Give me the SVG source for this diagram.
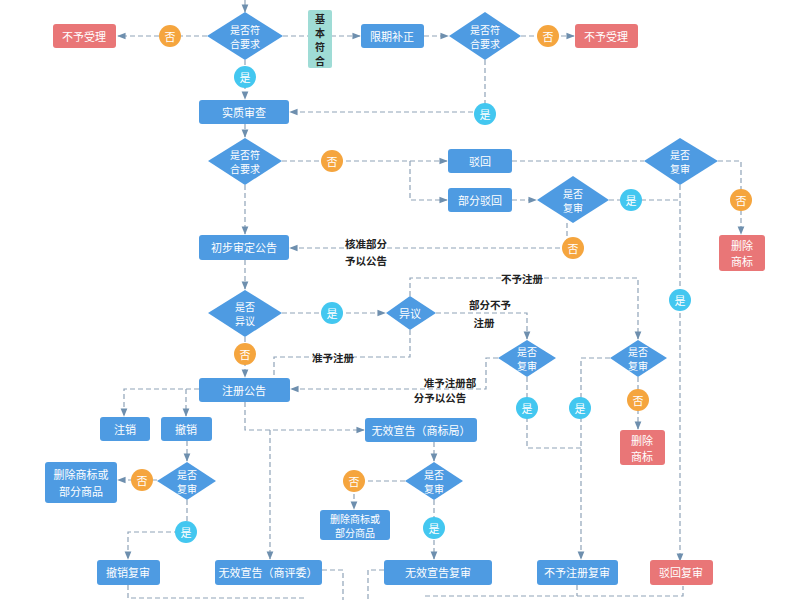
<svg xmlns="http://www.w3.org/2000/svg" width="800" height="600" viewBox="0 0 800 600">
<style>
.b{fill:#4e9be2}.r{fill:#e97677}.o{fill:#f5a53e}.c{fill:#43c7f0}
text{font-family:"Noto Sans CJK SC","Noto Sans",sans-serif;font-size:11px;fill:#fff;text-anchor:middle;dominant-baseline:central}
.s text,text.s{font-size:10px}
.k{fill:#222;font-size:10.5px;font-weight:bold}
.l{fill:none;stroke:#8fa3b8;stroke-width:1.2;stroke-dasharray:5 3}
.a{marker-end:url(#ar)}
</style>
<defs><marker id="ar" viewBox="0 0 10 10" refX="9" refY="5" markerWidth="7" markerHeight="7" orient="auto"><path d="M0,1 L10,5 L0,9 z" fill="#6e8fae"/></marker></defs>
<rect width="800" height="600" fill="#fff"/>
<g id="connectors">
<path class="l a" d="M245,0 V12"/>
<path class="l a" d="M207,36 H118"/>
<path class="l a" d="M283,36 H360"/>
<path class="l a" d="M424,36 H448"/>
<path class="l a" d="M521,36 H574"/>
<path class="l a" d="M485,60 V112 H290"/>
<path class="l a" d="M245,60 V99"/>
<path class="l a" d="M245,124 V137"/>
<path class="l a" d="M282,161 H447"/>
<path class="l a" d="M410,161 V200 H447"/>
<path class="l a" d="M512,200 H536"/>
<path class="l" d="M512,161 H644"/>
<path class="l" d="M609,200 H680"/>
<path class="l a" d="M718,161 H741 V234"/>
<path class="l a" d="M680,185 V561"/>
<path class="l a" d="M567,223 V248 H290"/>
<path class="l a" d="M245,185 V234"/>
<path class="l a" d="M245,260 V289"/>
<path class="l a" d="M282,313 H385"/>
<path class="l a" d="M245,337 V377"/>
<path class="l" d="M410,330 V357 H274 V378"/>
<path class="l a" d="M410,296 V278 H638 V339"/>
<path class="l a" d="M436,313 H527 V339"/>
<path class="l a" d="M498,358 H486 V389 H291"/>
<path class="l" d="M527,377 V448 H581"/>
<path class="l a" d="M610,358 H581 V559"/>
<path class="l a" d="M638,377 V429"/>
<path class="l a" d="M199,389 H124 V416"/>
<path class="l a" d="M186,389 V416"/>
<path class="l a" d="M245,402 V430 H364"/>
<path class="l a" d="M270,430 V559"/>
<path class="l a" d="M187,441 V461"/>
<path class="l a" d="M157,480 H118"/>
<path class="l a" d="M187,500 V532 H128 V559"/>
<path class="l a" d="M434,442 V461"/>
<path class="l a" d="M405,481 H354 V509"/>
<path class="l a" d="M434,500 V559"/>
<path class="l" d="M128,585 V598 H305"/>
<path class="l" d="M322,570 H343 V600"/>
<path class="l" d="M384,570 H368 V600"/>
<path class="l" d="M425,596 H683 V586"/>
<path class="l" d="M577,585 V596"/>
</g>
<g id="d1" class="s"><polygon class="b" points="245,12 283,36 245,60 207,36"/><text x="245" y="29">是否符</text><text x="245" y="43">合要求</text></g>
<g id="n1"><rect class="r" x="53" y="24" width="63" height="24" rx="3"/><text x="84" y="36">不予受理</text></g>
<g id="c1"><circle class="o" cx="170" cy="36" r="11"/><text x="170" y="36">否</text></g>
<g id="n2"><rect fill="#9fdcd6" x="308" y="10" width="24" height="58" rx="2"/><text class="k" x="320" y="18" style="font-size:10px">基</text><text class="k" x="320" y="32" style="font-size:10px">本</text><text class="k" x="320" y="46" style="font-size:10px">符</text><text class="k" x="320" y="60" style="font-size:10px">合</text></g>
<g id="n3"><rect class="b" x="361" y="24" width="63" height="24" rx="3"/><text x="392" y="36">限期补正</text></g>
<g id="d2" class="s"><polygon class="b" points="485,12 521,36 485,60 449,36"/><text x="485" y="29">是否符</text><text x="485" y="43">合要求</text></g>
<g id="c2"><circle class="o" cx="548" cy="36" r="11"/><text x="548" y="36">否</text></g>
<g id="n4"><rect class="r" x="575" y="24" width="63" height="24" rx="3"/><text x="606" y="36">不予受理</text></g>
<g id="c3"><circle class="c" cx="485" cy="114" r="11"/><text x="485" y="114">是</text></g>
<g id="c4"><circle class="c" cx="245" cy="77" r="11"/><text x="245" y="77">是</text></g>
<g id="n5"><rect class="b" x="199" y="100" width="90" height="24" rx="3"/><text x="244" y="112">实质审查</text></g>
<g id="d3" class="s"><polygon class="b" points="245,138 282,161 245,185 208,161"/><text x="245" y="154">是否符</text><text x="245" y="168">合要求</text></g>
<g id="c5"><circle class="o" cx="332" cy="161" r="11"/><text x="332" y="161">否</text></g>
<g id="n6"><rect class="b" x="448" y="149" width="64" height="24" rx="3"/><text x="480" y="161">驳回</text></g>
<g id="n7"><rect class="b" x="448" y="188" width="64" height="24" rx="3"/><text x="480" y="200">部分驳回</text></g>
<g id="d4" class="s"><polygon class="b" points="573,176 609,200 573,223 537,200"/><text x="573" y="193">是否</text><text x="573" y="207">复审</text></g>
<g id="c6"><circle class="c" cx="631" cy="200" r="11"/><text x="631" y="200">是</text></g>
<g id="c7"><circle class="o" cx="573" cy="248" r="11"/><text x="573" y="248">否</text></g>
<g id="d5" class="s"><polygon class="b" points="680,138 718,161 680,185 644,161"/><text x="680" y="154">是否</text><text x="680" y="168">复审</text></g>
<g id="c8"><circle class="o" cx="741" cy="200" r="11"/><text x="741" y="200">否</text></g>
<g id="n8"><rect class="r" x="719" y="235" width="46" height="36" rx="3"/><text x="742" y="245">删除</text><text x="742" y="261">商标</text></g>
<g id="c9"><circle class="c" cx="680" cy="300" r="11"/><text x="680" y="300">是</text></g>
<g id="n9"><rect class="b" x="199" y="235" width="90" height="25" rx="3"/><text x="244" y="247">初步审定公告</text></g>
<text class="k" x="366" y="243">核准部分</text><text class="k" x="366" y="260">予以公告</text>
<g id="d6" class="s"><polygon class="b" points="245,290 282,313 245,337 208,313"/><text x="245" y="306">是否</text><text x="245" y="320">异议</text></g>
<g id="c10"><circle class="c" cx="332" cy="313" r="11"/><text x="332" y="313">是</text></g>
<g id="d7"><polygon class="b" points="410,296 436,313 410,330 386,313"/><text x="410" y="313">异议</text></g>
<g id="c11"><circle class="o" cx="245" cy="354" r="11"/><text x="245" y="354">否</text></g>
<text class="k" x="333" y="357">准予注册</text>
<text class="k" x="522" y="278">不予注册</text>
<text class="k" x="490" y="304">部分不予</text><text class="k" x="484" y="322">注册</text>
<g id="n10"><rect class="b" x="199" y="378" width="91" height="24" rx="3"/><text x="244" y="390">注册公告</text></g>
<text class="k" x="450" y="382">准予注册部</text><text class="k" x="440" y="397">分予以公告</text>
<g id="d8" class="s"><polygon class="b" points="527,340 556,358 527,377 498,358"/><text x="527" y="351">是否</text><text x="527" y="365">复审</text></g>
<g id="c12"><circle class="c" cx="527" cy="408" r="11"/><text x="527" y="408">是</text></g>
<g id="c13"><circle class="c" cx="580" cy="408" r="11"/><text x="580" y="408">是</text></g>
<g id="d9" class="s"><polygon class="b" points="638,340 667,358 638,377 610,358"/><text x="638" y="351">是否</text><text x="638" y="365">复审</text></g>
<g id="c14"><circle class="o" cx="638" cy="400" r="11"/><text x="638" y="400">否</text></g>
<g id="n11"><rect class="r" x="620" y="430" width="45" height="35" rx="3"/><text x="642" y="440">删除</text><text x="642" y="456">商标</text></g>
<g id="n12"><rect class="b" x="100" y="417" width="50" height="24" rx="3"/><text x="125" y="429">注销</text></g>
<g id="n13"><rect class="b" x="161" y="417" width="51" height="24" rx="3"/><text x="186" y="429">撤销</text></g>
<g id="n14"><rect class="b" x="365" y="418" width="112" height="24" rx="3"/><text x="421" y="430">无效宣告（商标局）</text></g>
<g id="d10" class="s"><polygon class="b" points="187,462 216,481 187,500 157,481"/><text x="187" y="474">是否</text><text x="187" y="488">复审</text></g>
<g id="c15"><circle class="o" cx="142" cy="480" r="11"/><text x="142" y="480">否</text></g>
<g id="n15"><rect class="b" x="45" y="462" width="72" height="41" rx="3"/><text x="81" y="474">删除商标或</text><text x="81" y="491">部分商品</text></g>
<g id="c16"><circle class="c" cx="186" cy="532" r="11"/><text x="186" y="532">是</text></g>
<g id="d11" class="s"><polygon class="b" points="434,462 463,481 434,500 405,481"/><text x="434" y="474">是否</text><text x="434" y="488">复审</text></g>
<g id="c17"><circle class="o" cx="354" cy="481" r="11"/><text x="354" y="481">否</text></g>
<g id="n16" class="s"><rect class="b" x="320" y="510" width="70" height="30" rx="3"/><text x="355" y="518">删除商标或</text><text x="355" y="532">部分商品</text></g>
<g id="c18"><circle class="c" cx="434" cy="528" r="11"/><text x="434" y="528">是</text></g>
<g id="n17"><rect class="b" x="97" y="560" width="63" height="25" rx="3"/><text x="128" y="572">撤销复审</text></g>
<g id="n18"><rect class="b" x="215" y="560" width="107" height="25" rx="3"/><text x="268" y="572">无效宣告（商评委）</text></g>
<g id="n19"><rect class="b" x="384" y="560" width="108" height="25" rx="3"/><text x="438" y="572">无效宣告复审</text></g>
<g id="n20"><rect class="b" x="537" y="560" width="81" height="25" rx="3"/><text x="577" y="572">不予注册复审</text></g>
<g id="n21"><rect class="r" x="650" y="560" width="63" height="25" rx="3"/><text x="681" y="572">驳回复审</text></g>
</svg>
